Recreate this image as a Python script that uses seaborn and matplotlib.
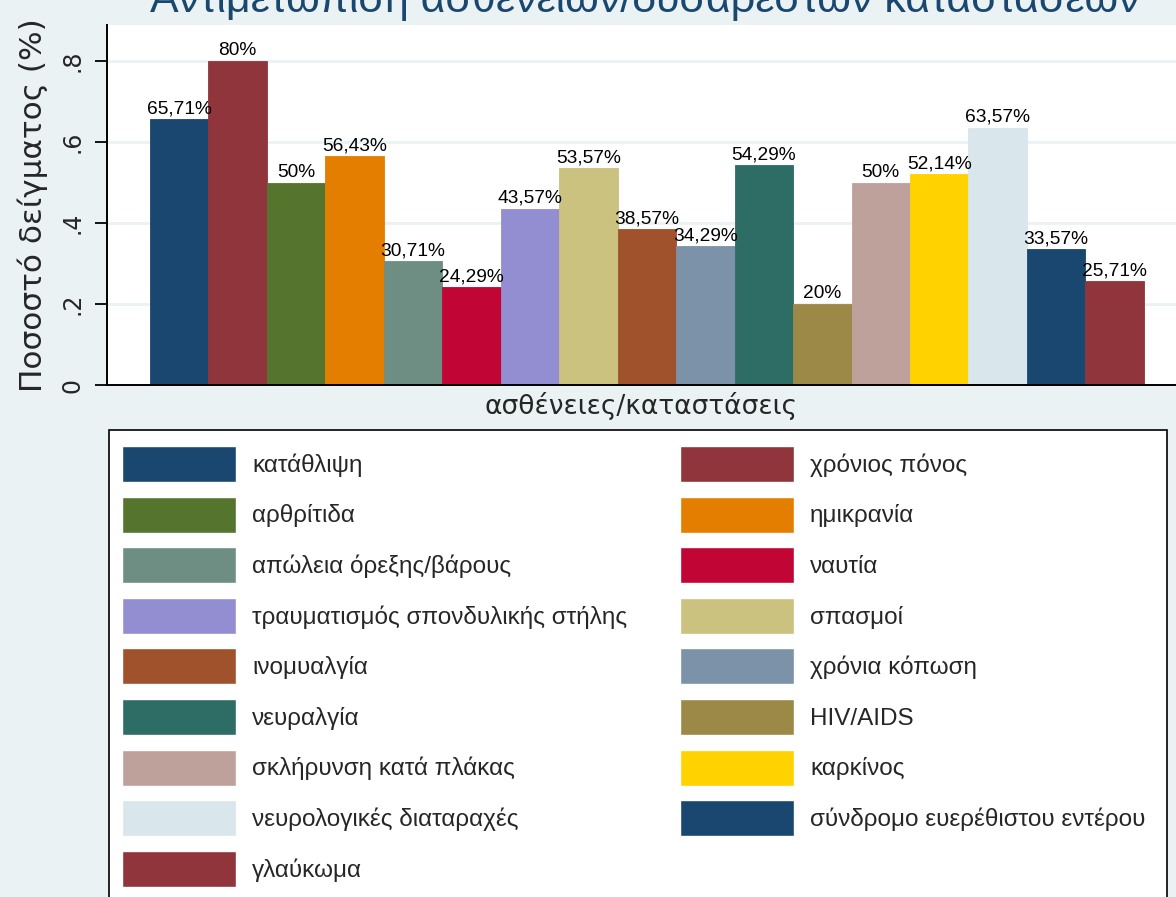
import numpy as np
import pandas as pd
import seaborn as sns
from matplotlib import pyplot as plt
from matplotlib.patches import Rectangle

W, H = 1176, 897

conditions = [
    'κατάθλιψη', 'χρόνιος πόνος', 'αρθρίτιδα', 'ημικρανία',
    'απώλεια όρεξης/βάρους', 'ναυτία', 'τραυματισμός σπονδυλικής στήλης',
    'σπασμοί', 'ινομυαλγία', 'χρόνια κόπωση', 'νευραλγία', 'HIV/AIDS',
    'σκλήρυνση κατά πλάκας', 'καρκίνος', 'νευρολογικές διαταραχές',
    'σύνδρομο ευερέθιστου εντέρου', 'γλαύκωμα',
]
shares = [0.6571, 0.80, 0.50, 0.5643, 0.3071, 0.2429, 0.4357, 0.5357, 0.3857,
          0.3429, 0.5429, 0.20, 0.50, 0.5214, 0.6357, 0.3357, 0.2571]
yticks = [0, 0.2, 0.4, 0.6, 0.8]
ytick_labels = ['0', '.2', '.4', '.6', '.8']

# stata s2color cycle
s2color = ['#1a476f', '#90353b', '#55752f', '#e37e00', '#6e8e84', '#c10534',
           '#938dd2', '#cac27e', '#a0522d', '#7b92a8', '#2d6d66', '#9c8847',
           '#bfa19c', '#ffd200', '#d9e6eb']
colors = [s2color[i % len(s2color)] for i in range(len(conditions))]

df = pd.DataFrame({'condition': conditions, 'share': shares})

sns.set_style('white')
plt.rcParams['font.family'] = ['Liberation Sans', 'DejaVu Sans']
wide = ['DejaVu Sans']

fig = plt.figure(figsize=(W / 100, H / 100), dpi=100)
fig.patch.set_facecolor('#eaf2f3')
ax = fig.add_axes([107 / W, 1 - 385 / H, (W - 107) / W, (385 - 25) / H])
ax.set_facecolor('white')

sns.barplot(df, x='condition', y='share', hue='condition',
            palette=dict(zip(conditions, colors)), width=1.0,
            saturation=1, dodge=False, legend=True, ax=ax)
for p, c in zip(ax.patches, colors):
    p.set_edgecolor(c)
    p.set_linewidth(0.6)

for i, v in enumerate(shares):
    txt = f'{round(v * 100, 2):g}'.replace('.', ',') + '%'
    ax.text(i, v + 0.004, txt, ha='center', va='bottom', fontsize=13.8,
            color='black')

ax.set_xlim(-1.235, 17.05)
ax.set_ylim(0, 0.889)
ax.set_yticks(yticks)
ax.set_yticklabels(ytick_labels, rotation=90, va='center', family=wide,
                   fontsize=17)
ax.set_xticks([])
ax.tick_params(axis='y', length=9, width=1.3, pad=7, left=True,
               color='black')
ax.yaxis.grid(True, color='#eaf2f3', lw=2)
ax.set_axisbelow(True)
for s in ['top', 'right']:
    ax.spines[s].set_visible(False)
for s in ['left', 'bottom']:
    ax.spines[s].set_color('black')
    ax.spines[s].set_linewidth(1.4)

ax.set_ylabel('Ποσοστό δείγματος (%)', family=wide, fontsize=22.4,
              labelpad=9)
ax.set_xlabel('ασθένειες/καταστάσεις', family=wide, fontsize=19,
              labelpad=5)

fig.text(0.548, 1 - 12 / H, 'Αντιμετώπιση ασθενειών/δυσάρεστων καταστάσεων',
         ha='center', va='baseline', fontsize=31, color='#1a476f')

handles, labels = ax.get_legend_handles_labels()
ax.get_legend().remove()

# legend box
fig.patches.append(Rectangle((109 / W, -0.05), (1167 - 109) / W,
                             1 - 430 / H + 0.05, transform=fig.transFigure,
                             facecolor='white', edgecolor='black', lw=1.2,
                             zorder=1))
fs = 17.5
fpx = fs / 0.72
hh = (36 / fpx - 0.245) / 0.65
opts = dict(loc='upper left', bbox_transform=fig.transFigure, frameon=False,
            borderaxespad=0, borderpad=0, fontsize=fs,
            handlelength=114 / fpx, handleheight=hh,
            labelspacing=14.6 / fpx, handletextpad=16 / fpx)
fig.legend(handles[0::2], labels[0::2], bbox_to_anchor=(122 / W, 1 - 446 / H),
           **opts)
fig.legend(handles[1::2], labels[1::2], bbox_to_anchor=(680 / W, 1 - 446 / H),
           **opts)

plt.savefig('out.png', dpi=100, facecolor=fig.get_facecolor())
